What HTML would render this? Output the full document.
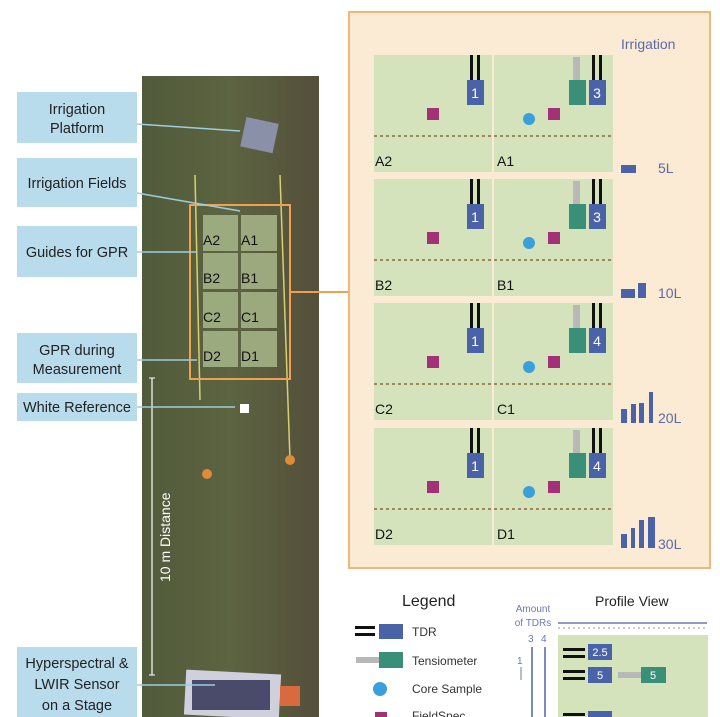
<!DOCTYPE html>
<html><head><meta charset="utf-8"><style>
html,body{margin:0;padding:0;background:#fff;}
svg{display:block;font-family:"Liberation Sans",sans-serif;}
</style></head><body>
<svg width="720" height="717" viewBox="0 0 720 717" xmlns="http://www.w3.org/2000/svg">
<defs>
<linearGradient id="g" x1="0" y1="0" x2="1" y2="0">
<stop offset="0" stop-color="#515a3a"/><stop offset="0.5" stop-color="#5c6441"/><stop offset="1" stop-color="#544f3a"/>
</linearGradient>
<g id="tdr"><rect x="3" y="-25" width="3" height="25" fill="#111"/><rect x="10" y="-25" width="3" height="25" fill="#111"/><rect x="0" y="0" width="17" height="25" fill="#4a63a8"/></g>
</defs>
<!-- photo -->
<rect x="142" y="76" width="177" height="641" fill="url(#g)"/>
<rect x="243" y="120" width="33" height="30" fill="#8a90a8" transform="rotate(12 259 135)"/>
<rect x="185" y="672" width="95" height="45" fill="#d0d0dc" transform="rotate(3 232 695)"/>
<rect x="192" y="680" width="78" height="30" fill="#4a4a6a"/>
<rect x="280" y="686" width="20" height="20" fill="#d86a40"/>
<line x1="195" y1="175" x2="200" y2="400" stroke="#d8d070" stroke-width="1.5"/>
<line x1="280" y1="175" x2="290" y2="460" stroke="#d8d070" stroke-width="1.5"/>
<circle cx="207" cy="474" r="5" fill="#e08a3a"/><circle cx="290" cy="460" r="5" fill="#e08a3a"/>
<rect x="240" y="404" width="9" height="9" fill="#fff"/>
<g fill="#a4b286" opacity="0.9">
<rect x="203" y="215" width="35" height="36"/><rect x="241" y="215" width="36" height="36"/>
<rect x="203" y="253" width="35" height="36"/><rect x="241" y="253" width="36" height="36"/>
<rect x="203" y="292" width="35" height="36"/><rect x="241" y="292" width="36" height="36"/>
<rect x="203" y="331" width="35" height="36"/><rect x="241" y="331" width="36" height="36"/>
</g>
<g font-size="14" fill="#111">
<text x="203" y="245">A2</text><text x="241" y="245">A1</text>
<text x="203" y="283">B2</text><text x="241" y="283">B1</text>
<text x="203" y="322">C2</text><text x="241" y="322">C1</text>
<text x="203" y="361">D2</text><text x="241" y="361">D1</text>
</g>
<rect x="190" y="205" width="100" height="174" fill="none" stroke="#f0a050" stroke-width="2"/>
<line x1="290" y1="292" x2="349" y2="292" stroke="#f0a050" stroke-width="2"/>
<!-- 10 m -->
<line x1="152" y1="378" x2="152" y2="675" stroke="#fff" stroke-width="1.2"/>
<line x1="149" y1="378" x2="155" y2="378" stroke="#fff"/><line x1="149" y1="675" x2="155" y2="675" stroke="#fff"/>
<text transform="translate(170 582) rotate(-90)" font-size="14" fill="#fff">10 m Distance</text>
<!-- labels -->
<g fill="#b9dcec">
<rect x="17" y="92" width="120" height="51"/><rect x="17" y="158" width="120" height="49"/>
<rect x="17" y="226" width="120" height="51"/><rect x="17" y="333" width="120" height="50"/>
<rect x="17" y="393" width="120" height="28"/><rect x="17" y="647" width="120" height="70"/>
</g>
<g font-size="14.5" fill="#222" text-anchor="middle">
<text x="77" y="114">Irrigation</text><text x="77" y="133">Platform</text>
<text x="77" y="188">Irrigation Fields</text>
<text x="77" y="257">Guides for GPR</text>
<text x="77" y="355">GPR during</text><text x="77" y="374">Measurement</text>
<text x="77" y="412">White Reference</text>
<text x="77" y="668">Hyperspectral &amp;</text><text x="77" y="689">LWIR Sensor</text><text x="77" y="710">on a Stage</text>
</g>
<g stroke="#9ccde0" stroke-width="1.5">
<line x1="137" y1="124" x2="240" y2="131"/><line x1="137" y1="193" x2="240" y2="211"/>
<line x1="137" y1="252" x2="197" y2="252"/><line x1="137" y1="360" x2="197" y2="360"/>
<line x1="137" y1="407" x2="235" y2="407"/><line x1="137" y1="685" x2="215" y2="685"/>
</g>
<!-- right panel -->
<rect x="349" y="12" width="361" height="556" fill="#fbead4" stroke="#f0b878" stroke-width="2"/>
<text x="621" y="49" font-size="14" fill="#5b6aa8">Irrigation</text>
<g id="row">
<rect x="374" y="55" width="118" height="117" fill="#d5e3bd"/>
<rect x="494" y="55" width="119" height="117" fill="#d5e3bd"/>
<use href="#tdr" x="467" y="80"/>
<use href="#tdr" x="589" y="80"/>
<rect x="573" y="57" width="7" height="23" fill="#b8b8b8"/>
<rect x="569" y="80" width="17" height="25" fill="#3a8f78"/>
<rect x="427" y="108" width="12" height="12" fill="#a43078"/>
<rect x="548" y="108" width="12" height="12" fill="#a43078"/>
<circle cx="529" cy="119" r="6" fill="#3aa0dc"/>
<line x1="374" y1="136" x2="613" y2="136" stroke="#8a6a3a" stroke-width="1.5" stroke-dasharray="3,3"/>
</g>
<use href="#row" y="124"/><use href="#row" y="248"/><use href="#row" y="373"/>
<g font-size="14" fill="#111">
<text x="375" y="166">A2</text><text x="497" y="166">A1</text>
<text x="375" y="290">B2</text><text x="497" y="290">B1</text>
<text x="375" y="414">C2</text><text x="497" y="414">C1</text>
<text x="375" y="539">D2</text><text x="497" y="539">D1</text>
</g>
<g font-size="14" fill="#fff" text-anchor="middle">
<text x="475" y="98">1</text><text x="597" y="98">3</text>
<text x="475" y="222">1</text><text x="597" y="222">3</text>
<text x="475" y="346">1</text><text x="597" y="346">4</text>
<text x="475" y="471">1</text><text x="597" y="471">4</text>
</g>
<g fill="#4a63a8">
<rect x="621" y="165" width="15" height="8"/>
<rect x="621" y="289" width="14" height="9"/><rect x="638" y="283" width="8" height="15"/>
<rect x="621" y="409" width="6" height="14"/><rect x="631" y="404" width="5" height="19"/><rect x="639" y="403" width="5" height="20"/><rect x="649" y="392" width="4" height="31"/>
<rect x="621" y="534" width="6" height="14"/><rect x="631" y="528" width="4" height="20"/><rect x="639" y="520" width="5" height="28"/><rect x="648" y="517" width="7" height="31"/>
</g>
<g font-size="14" fill="#5b6aa8">
<text x="658" y="173">5L</text><text x="658" y="298">10L</text><text x="658" y="423">20L</text><text x="658" y="549">30L</text>
</g>
<!-- legend -->
<text x="402" y="606" font-size="16" fill="#222">Legend</text>
<rect x="355" y="626" width="20" height="3" fill="#111"/><rect x="355" y="633" width="20" height="3" fill="#111"/>
<rect x="379" y="624" width="24" height="15" fill="#4a63a8"/>
<text x="412" y="636" font-size="12" fill="#333">TDR</text>
<rect x="356" y="657" width="25" height="6" fill="#b8b8b8"/><rect x="379" y="652" width="24" height="16" fill="#3a8f78"/>
<text x="412" y="665" font-size="12" fill="#333">Tensiometer</text>
<circle cx="380" cy="689" r="7" fill="#3aa0dc"/>
<text x="412" y="693" font-size="12" fill="#333">Core Sample</text>
<rect x="375" y="712" width="12" height="8" fill="#a43078"/>
<text x="412" y="720" font-size="12" fill="#333">FieldSpec</text>
<!-- profile -->
<text x="595" y="606" font-size="14" fill="#222">Profile View</text>
<text x="533" y="612" font-size="10" fill="#6a7ab0" text-anchor="middle">Amount</text>
<text x="533" y="626" font-size="10" fill="#6a7ab0" text-anchor="middle">of TDRs</text>
<text x="528" y="642" font-size="10" fill="#6a7ab0">3</text><text x="541" y="642" font-size="10" fill="#6a7ab0">4</text>
<text x="517" y="664" font-size="10" fill="#6a7ab0">1</text>
<line x1="521" y1="667" x2="521" y2="680" stroke="#6a7ab0"/>
<line x1="532" y1="647" x2="532" y2="717" stroke="#4a63a8" stroke-width="1.5"/>
<line x1="545" y1="647" x2="545" y2="717" stroke="#4a63a8" stroke-width="1.5"/>
<line x1="558" y1="623" x2="707" y2="623" stroke="#6a7ab0" stroke-width="1.5"/>
<line x1="558" y1="628" x2="707" y2="628" stroke="#8a9ac8" stroke-dasharray="2,3"/>
<rect x="558" y="635" width="150" height="82" fill="#d5e3bd"/>
<rect x="563" y="648" width="22" height="3" fill="#111"/><rect x="563" y="655" width="22" height="3" fill="#111"/>
<rect x="588" y="644" width="24" height="16" fill="#4a63a8"/>
<text x="600" y="656" font-size="11" fill="#fff" text-anchor="middle">2.5</text>
<rect x="563" y="670" width="22" height="3" fill="#111"/><rect x="563" y="677" width="22" height="3" fill="#111"/>
<rect x="588" y="667" width="24" height="16" fill="#4a63a8"/>
<text x="600" y="679" font-size="11" fill="#fff" text-anchor="middle">5</text>
<rect x="618" y="672" width="24" height="6" fill="#b8b8b8"/>
<rect x="641" y="667" width="25" height="16" fill="#3a8f78"/>
<text x="653" y="679" font-size="11" fill="#fff" text-anchor="middle">5</text>
<rect x="563" y="713" width="22" height="3" fill="#111"/><rect x="588" y="711" width="24" height="8" fill="#4a63a8"/>
</svg>
</body></html>
